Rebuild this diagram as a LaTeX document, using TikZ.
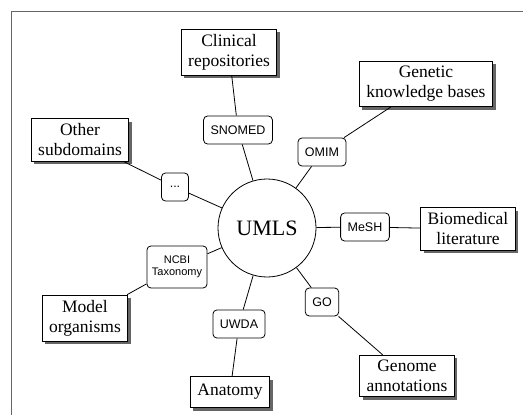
\documentclass[tikz,border=0pt]{standalone}
\usepackage{fontspec}
\setmainfont{Liberation Serif}
\setsansfont{Liberation Sans}
\usetikzlibrary{positioning,shadows}

\begin{document}
\begin{tikzpicture}[x=1pt,y=-1pt,line width=0.8pt,
    src/.style={draw,fill=white,align=center,inner xsep=7pt,inner ysep=5pt,minimum height=31pt,
      font=\fontsize{17.5}{20}\selectfont,
      drop shadow={shadow xshift=3pt,shadow yshift=-3pt,fill=black!60,opacity=1}},
    map/.style={draw,fill=white,rounded corners=4pt,align=center,inner xsep=7pt,minimum height=28pt,
      font=\sffamily\fontsize{12.5}{14}\selectfont}]
    \useasboundingbox (0,0) rectangle (523,415);
    \draw[black!60,line width=1pt] (11,415) -- (11,11) -- (523,11);
    \node[draw,circle,fill=white,minimum size=98pt,font=\fontsize{22}{26}\selectfont] (U) at (267,228) {UMLS};
    % sources
    \node[src] (CR) at (229,52) {Clinical\\repositories};
    \node[src] (GKB) at (426,84) {Genetic\\knowledge bases};
    \node[src] (OS) at (80,140) {Other\\subdomains};
    \node[src] (BL) at (468,229) {Biomedical\\literature};
    \node[src] (MO) at (85,318) {Model\\organisms};
    \node[src] (An) at (230,392) {Anatomy};
    \node[src] (GA) at (407,376) {Genome\\annotations};
    % vocabularies
    \node[map] (SN) at (238,130) {SNOMED};
    \node[map] (OM) at (322,152) {OMIM};
    \node[map,minimum width=27pt,inner xsep=2pt] (Dt) at (175,187) {...};
    \node[map] (MeSH) at (365,227) {MeSH};
    \node[map,inner xsep=5pt,minimum height=42pt,font=\sffamily\fontsize{11}{12.5}\selectfont] (NCBI) at (177,267) {NCBI\\Taxonomy};
    \node[map] (UW) at (239,324) {UWDA};
    \node[map] (GO) at (322,302) {GO};
    \draw (U) -- (SN) -- (CR);
    \draw (U) -- (OM) -- (GKB);
    \draw (U) -- (Dt) -- (OS);
    \draw (U) -- (MeSH) -- (BL);
    \draw (U) -- (NCBI) -- (MO);
    \draw (U) -- (UW) -- (An);
    \draw (U) -- (GO) -- (GA);
  \end{tikzpicture}
\end{document}
